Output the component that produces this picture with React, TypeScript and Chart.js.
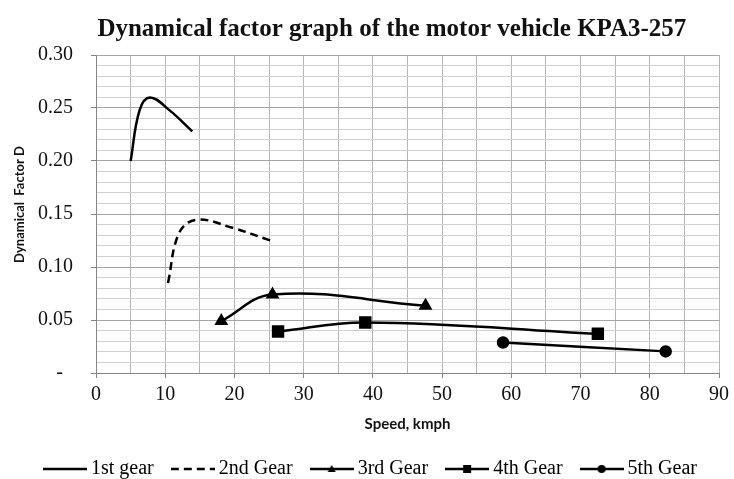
import React, { useEffect, useRef } from 'react';
import { Chart, registerables } from 'chart.js';

Chart.register(...registerables);

// ---- data ----
const seriesLabels = ['1st gear', '2nd Gear', '3rd Gear', '4th Gear', '5th Gear'];

const gear1Speed = [5.0, 6.3, 7.8, 10.6, 13.9];
const gear1D = [0.2, 0.248, 0.26, 0.248, 0.228];

const gear2Speed = [10.4, 12.0, 14.5, 19.7, 25.2];
const gear2D = [0.085, 0.132, 0.1445, 0.137, 0.125];

const gear3Speed = [18.1, 25.5, 47.6];
const gear3D = [0.049, 0.074, 0.0635];

const gear4Speed = [26.3, 38.9, 72.5];
const gear4D = [0.0392, 0.0477, 0.037];

const gear5Speed = [58.8, 82.3];
const gear5D = [0.0288, 0.0204];

const xTickLabels = ['0', '10', '20', '30', '40', '50', '60', '70', '80', '90'];
const yTickLabels = ['-', '0.05', '0.10', '0.15', '0.20', '0.25', '0.30'];

const titleText = 'Dynamical factor graph of the motor vehicle KPA3-257';
const yTitle = 'Dynamical  Factor D';
const xTitle = 'Speed, kmph';

const toPoints = (xs: number[], ys: number[]) => xs.map((x, i) => ({ x, y: ys[i] }));

type Marker = 'none' | 'triangle' | 'rect' | 'circle';

function makeLegendIcon(marker: Marker, dashed: boolean): HTMLCanvasElement {
  const c = document.createElement('canvas');
  c.width = 44;
  c.height = 14;
  const g = c.getContext('2d')!;
  g.strokeStyle = '#000';
  g.fillStyle = '#000';
  g.lineWidth = 2.5;
  if (dashed) g.setLineDash([8, 5]);
  g.beginPath();
  g.moveTo(0, 7);
  g.lineTo(44, 7);
  g.stroke();
  g.setLineDash([]);
  if (marker === 'triangle') {
    g.beginPath();
    g.moveTo(22, 3);
    g.lineTo(26, 10);
    g.lineTo(18, 10);
    g.closePath();
    g.fill();
  } else if (marker === 'rect') {
    g.fillRect(18, 3, 8, 8);
  } else if (marker === 'circle') {
    g.beginPath();
    g.arc(22, 7, 4, 0, Math.PI * 2);
    g.fill();
  }
  return c;
}

export default function App() {
  const ref = useRef<HTMLCanvasElement | null>(null);

  useEffect(() => {
    document.body.style.margin = '0';
    const canvas = ref.current;
    if (!canvas) return;

    const icons = [
      makeLegendIcon('none', false),
      makeLegendIcon('none', true),
      makeLegendIcon('triangle', false),
      makeLegendIcon('rect', false),
      makeLegendIcon('circle', false),
    ];

    const serif = 'Liberation Serif, Times New Roman, serif';
    const sans = 'Lato, Calibri, sans-serif';

    const base = {
      borderColor: '#000',
      backgroundColor: '#000',
      borderWidth: 2.5,
      tension: 0.4,
      fill: false,
      pointBorderColor: '#000',
      pointBackgroundColor: '#000',
    };

    const chart = new Chart(canvas, {
      type: 'line',
      data: {
        datasets: [
          { ...base, label: seriesLabels[0], data: toPoints(gear1Speed, gear1D), pointRadius: 0 },
          { ...base, label: seriesLabels[1], data: toPoints(gear2Speed, gear2D), pointRadius: 0, borderDash: [8, 5] },
          { ...base, label: seriesLabels[2], data: toPoints(gear3Speed, gear3D), pointStyle: 'triangle', pointRadius: 5.5 },
          { ...base, label: seriesLabels[3], data: toPoints(gear4Speed, gear4D), pointStyle: 'rect', pointRadius: 7 },
          { ...base, label: seriesLabels[4], data: toPoints(gear5Speed, gear5D), pointStyle: 'circle', pointRadius: 5 },
        ],
      },
      options: {
        responsive: false,
        animation: false,
        devicePixelRatio: 1,
        layout: { padding: { top: 0, left: 24, right: 12, bottom: -10 } },
        scales: {
          x: {
            type: 'linear',
            min: 0,
            max: 90,
            afterFit: (s: any) => {
              s.height = 63;
            },
            ticks: {
              stepSize: 5,
              autoSkip: false,
              maxRotation: 0,
              padding: 5,
              color: '#111',
              font: { family: serif, size: 20 },
              callback: (v: any) => {
                const n = Math.round(Number(v));
                return n % 10 === 0 ? xTickLabels[n / 10] : '';
              },
            },
            grid: {
              color: '#b4b4b4',
              lineWidth: 1,
              tickLength: 5,
              tickColor: (ctx: any) =>
                ctx.tick && Math.round(ctx.tick.value) % 10 === 0 ? '#868686' : 'rgba(0,0,0,0)',
            },
            border: { color: '#868686', width: 1 },
            title: {
              display: true,
              text: xTitle,
              color: '#111',
              font: { family: sans, size: 15, weight: 'bold' },
              padding: { top: 0, bottom: 3 },
            },
          },
          y: {
            type: 'linear',
            min: 0,
            max: 0.3,
            afterFit: (s: any) => {
              s.width = 72;
            },
            ticks: {
              stepSize: 0.01,
              autoSkip: false,
              padding: 18,
              color: '#111',
              font: { family: serif, size: 20 },
              callback: (v: any) => {
                const n = Math.round(Number(v) * 100);
                if (n % 5 !== 0) return '';
                const lab = yTickLabels[n / 5];
                return lab === '-' ? '-  ' : lab;
              },
            },
            grid: {
              color: (ctx: any) =>
                ctx.tick && Math.round(ctx.tick.value * 100) % 5 === 0 ? '#a6a6a6' : '#d0d0d0',
              lineWidth: 1,
              tickLength: 5,
              tickColor: (ctx: any) =>
                ctx.tick && Math.round(ctx.tick.value * 100) % 5 === 0 ? '#868686' : 'rgba(0,0,0,0)',
            },
            border: { color: '#868686', width: 1 },
            title: {
              display: true,
              text: '      ' + yTitle,
              color: '#111',
              font: { family: sans, size: 13, weight: 'bold' },
              padding: { top: -11.8, bottom: 0 },
            },
          },
        },
        plugins: {
          title: {
            display: true,
            fullSize: false,
            text: titleText + '     ',
            color: '#111',
            font: { family: serif, size: 25, weight: 'bold' },
            padding: { top: 15, bottom: 10 },
          },
          legend: {
            display: true,
            position: 'bottom',
            labels: {
              usePointStyle: true,
              pointStyleWidth: 32,
              padding: 23,
              color: '#000',
              font: { family: serif, size: 20 },
              generateLabels: (ch: any) =>
                ch.data.datasets.map((ds: any, i: number) => ({
                  text: ds.label,
                  pointStyle: icons[i],
                  fillStyle: 'rgba(0,0,0,0)',
                  strokeStyle: 'rgba(0,0,0,0)',
                  lineWidth: 0,
                  hidden: false,
                  datasetIndex: i,
                  fontColor: '#000',
                })),
            },
          },
          tooltip: { enabled: false },
        },
      } as any,
    });

    return () => chart.destroy();
  }, []);

  return (
    <div style={{ width: 734, height: 479 }}>
      <canvas ref={ref} width={734} height={479} style={{ display: 'block' }} />
    </div>
  );
}
